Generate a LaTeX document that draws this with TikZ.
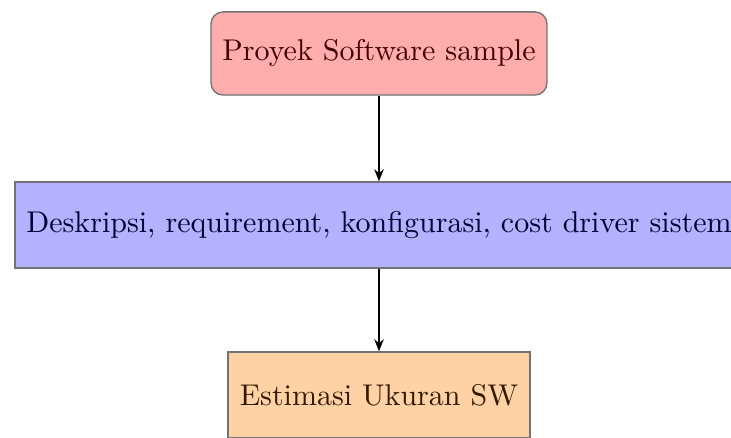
\documentclass[tikz,border=0pt]{standalone}
\usetikzlibrary{arrows.meta}
\begin{document}
\begin{tikzpicture}[x=1pt,y=1pt,
  box/.style={draw=black!55, line width=0.45pt, inner sep=0pt, align=center},
  flow/.style={-{Stealth[length=4pt,width=3.2pt]}, line width=0.5pt}]
  \useasboundingbox (0,0) rectangle (243.67,-146);
  \clip (0,0) rectangle (243.67,-146);
  \node[box, rounded corners=4pt, fill=red!32, text=red!25!black,
        minimum width=112pt, minimum height=27.7pt] (proj) at (126.33,-17.83)
        {Proyek Software sample};
  \node[box, fill=blue!30, text=blue!20!black,
        minimum width=242.7pt, minimum height=28.7pt] (desc) at (126.33,-75)
        {Deskripsi, requirement, konfigurasi, cost driver sistem};
  \node[box, fill=orange!35, text=orange!20!black,
        minimum width=100.7pt, minimum height=28.7pt] (est) at (126.33,-131.67)
        {Estimasi Ukuran SW};
  \draw[flow] (proj) -- (desc);
  \draw[flow] (desc) -- (est);
\end{tikzpicture}
\end{document}
